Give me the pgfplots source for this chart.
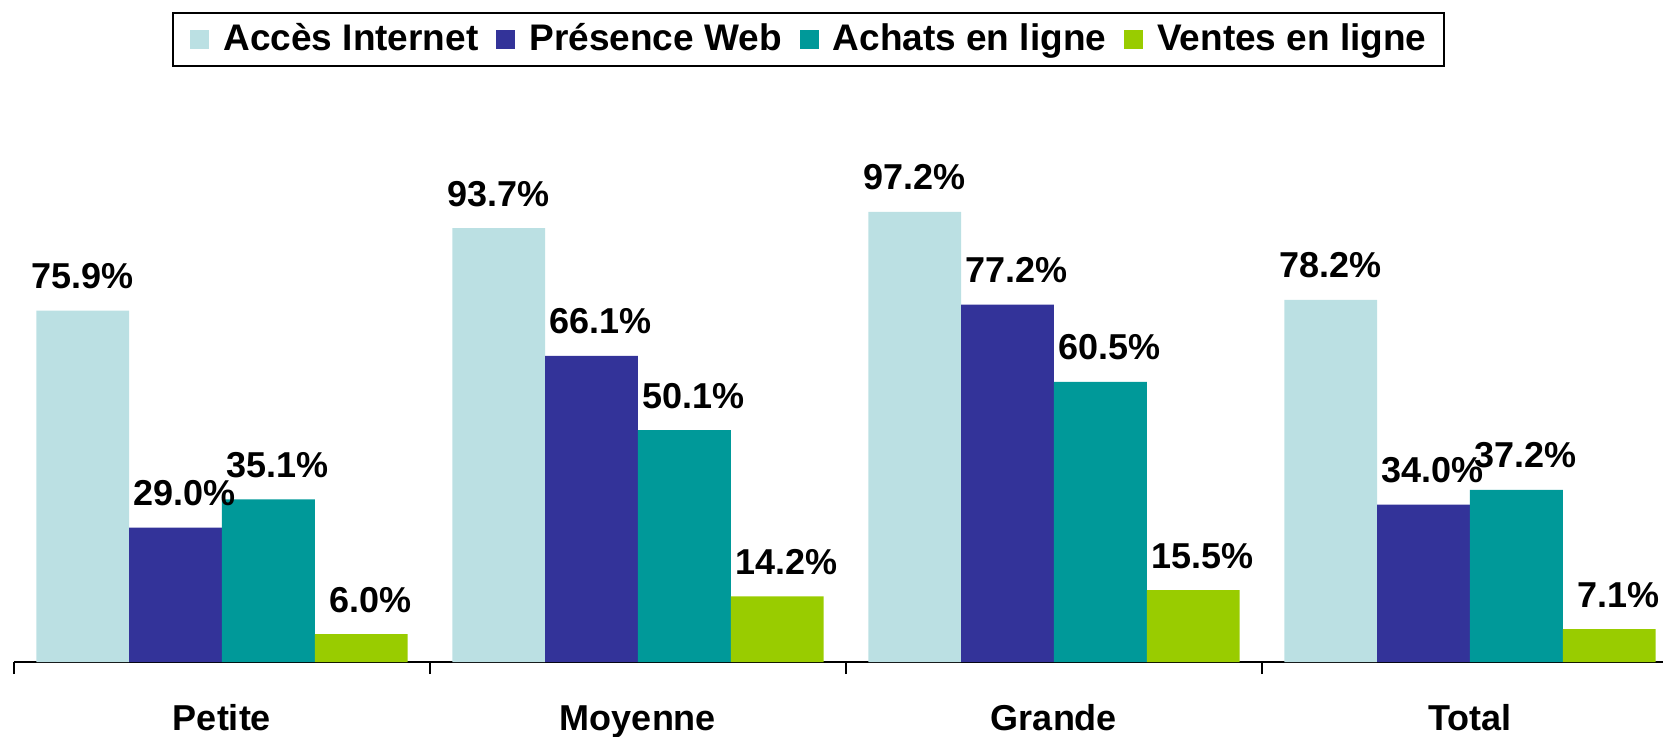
\documentclass[border=0pt]{standalone}
\usepackage{fontspec}
\setmainfont{Liberation Sans}
\usepackage{pgfplots}
\pgfplotsset{compat=1.18}
\definecolor{cA}{HTML}{BBE0E3}
\definecolor{cB}{HTML}{333399}
\definecolor{cC}{HTML}{009999}
\definecolor{cD}{HTML}{99CC00}
\begin{document}
\begin{tikzpicture}
\useasboundingbox (0,0) rectangle (498.9pt,220.8pt);
\begin{axis}[
  at={(4.2pt,22.2pt)}, anchor=south west,
  scale only axis, width=499.2pt, height=138.9pt,
  xmin=-0.5, xmax=3.5, ymin=0, ymax=100,
  ybar=0pt, bar width=0.223,
  axis x line*=bottom, axis y line=none,
  axis line style={black, line width=0.6pt, -},
  xtick={-0.5,0.5,1.5,2.5,3.5},
  x tick label as interval,
  xticklabels={Petite,Moyenne,Grande,Total},
  tick align=outside, major tick length=3.6pt,
  xtick style={black, line width=0.6pt},
  xticklabel style={font=\bfseries\fontsize{10.8}{13}\selectfont, anchor=base, yshift=-16.9pt},
  point meta=y,
  /pgf/number format/.cd, fixed, fixed zerofill, precision=1, assume math mode=true,
  /pgfplots/.cd,
  nodes near coords={\pgfmathprintnumber{\pgfplotspointmeta}\%},
  every node near coord/.append style={font=\bfseries\fontsize{10.8}{13}\selectfont, anchor=base, yshift=6.6pt, inner sep=0pt, black},
  legend columns=4,
  legend style={at={(0.4775,1.3445)}, anchor=center, draw=black, line width=0.6pt,
    font=\bfseries\fontsize{11.1}{13}\selectfont,
    inner xsep=5.2pt, inner ysep=3pt,
    nodes={inner sep=0pt},
    /tikz/every odd column/.append style={column sep=4.2pt},
    /tikz/every even column/.append style={column sep=5.4pt}},
  legend image code/.code={\fill[#1] (0pt,-2.85pt) rectangle (5.7pt,2.85pt);},
]
\addplot[fill=cA, draw=none] coordinates {(0,75.9) (1,93.7) (2,97.2) (3,78.2)};
\addplot[fill=cB, draw=none, every node near coord/.append style={xshift=2.7pt}] coordinates {(0,29.0) (1,66.1) (2,77.2) (3,34.0)};
\addplot[fill=cC, draw=none, every node near coord/.append style={xshift=2.7pt}] coordinates {(0,35.1) (1,50.1) (2,60.5) (3,37.2)};
\addplot[fill=cD, draw=none, every node near coord/.append style={xshift=2.7pt}] coordinates {(0,6.0) (1,14.2) (2,15.5) (3,7.1)};
\legend{Accès Internet, Présence Web, Achats en ligne, Ventes en ligne}
\end{axis}
\end{tikzpicture}
\end{document}
